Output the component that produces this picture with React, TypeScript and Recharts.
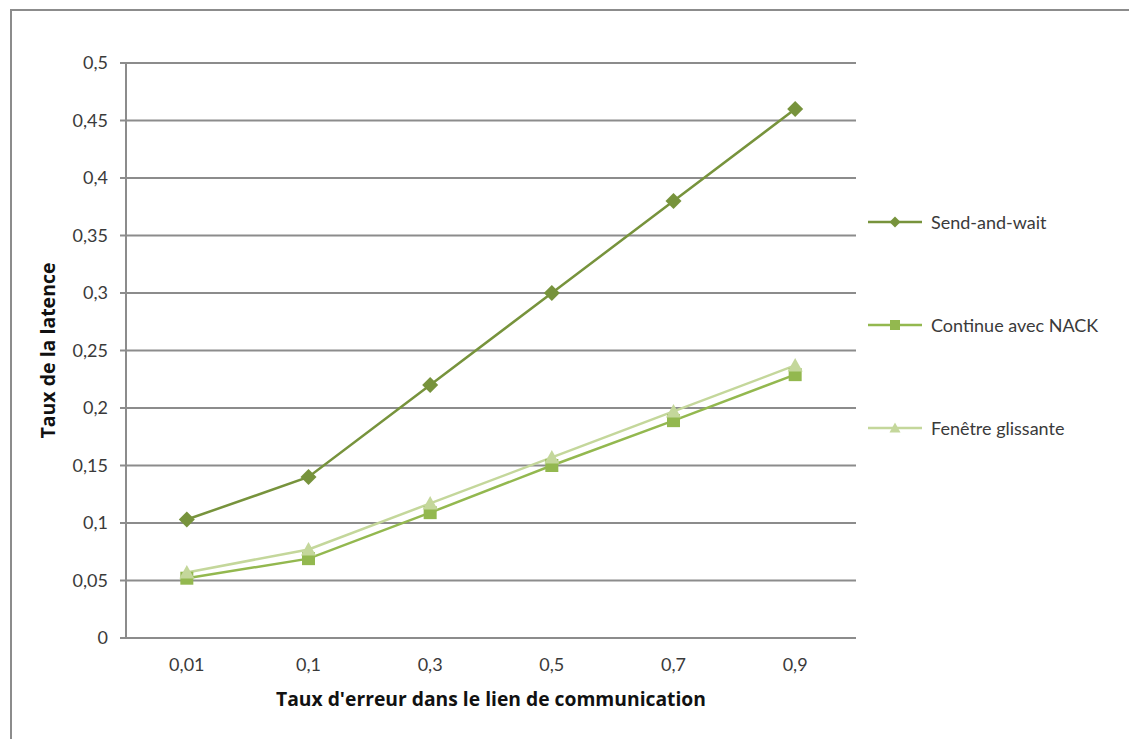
import React from "react";
import {
  LineChart,
  Line,
  XAxis,
  YAxis,
  CartesianGrid,
} from "recharts";

// Taux d'erreur testés
const categories = ["0,01", "0,1", "0,3", "0,5", "0,7", "0,9"];

// Taux de la latence par protocole
const sendAndWait = [0.103, 0.14, 0.22, 0.3, 0.38, 0.46];
const continueNack = [0.052, 0.069, 0.109, 0.15, 0.189, 0.229];
const fenetreGlissante = [0.057, 0.077, 0.117, 0.157, 0.197, 0.237];

const yTicks = [0, 0.05, 0.1, 0.15, 0.2, 0.25, 0.3, 0.35, 0.4, 0.45, 0.5];

const seriesNames = ["Send-and-wait", "Continue avec NACK", "Fenêtre glissante"];

const GRID = "#8c8c8c";
const TEXT = "#3a3a3a";
const FONT = "Lato, 'Open Sans', sans-serif";
const TITLE_FONT = "'Open Sans', Lato, sans-serif";

const series = [
  { key: "sw", name: seriesNames[0], color: "#77933c", shape: "diamond" },
  { key: "nack", name: seriesNames[1], color: "#93b84f", shape: "square" },
  { key: "fen", name: seriesNames[2], color: "#c4d79b", shape: "triangle" },
];

const data = categories.map((c, i) => ({
  i,
  cat: c,
  sw: sendAndWait[i],
  nack: continueNack[i],
  fen: fenetreGlissante[i],
}));

const catTicks = categories.map((_, i) => i);
const edgeTicks = [...categories.map((_, i) => i - 0.5), categories.length - 0.5];

const fmt = (v: number) => String(Math.round(v * 100) / 100).replace(".", ",");

function markerPath(shape: string, x: number, y: number, s: number) {
  if (shape === "diamond") {
    return `M${x},${y - s}L${x + s},${y}L${x},${y + s}L${x - s},${y}Z`;
  }
  if (shape === "square") {
    return `M${x - s},${y - s}H${x + s}V${y + s}H${x - s}Z`;
  }
  return `M${x},${y - s}L${x + s},${y + s * 0.8}L${x - s},${y + s * 0.8}Z`;
}

const markerSize: Record<string, number> = { diamond: 8, square: 6.5, triangle: 7.5 };

const makeDot = (shape: string, color: string) => (p: any) => {
  if (p.cx == null || p.cy == null) return <g key={`e-${shape}-${p.index}`} />;
  return (
    <path
      key={`${shape}-${p.index}`}
      d={markerPath(shape, p.cx, p.cy, markerSize[shape])}
      fill={color}
    />
  );
};

function YTitle(props: any) {
  const vb = props.viewBox;
  const x = vb.x + 47;
  const y = vb.y + vb.height / 2;
  return (
    <text
      x={x}
      y={y}
      transform={`rotate(-90, ${x}, ${y})`}
      textAnchor="middle"
      dominantBaseline="central"
      fontFamily={TITLE_FONT}
      fontWeight={700}
      fontSize={19.5}
      fill="#111"
    >
      Taux de la latence
    </text>
  );
}

export default function App() {
  return (
    <div
      style={{
        position: "relative",
        width: 1137,
        height: 747,
        margin: -8,
        overflow: "hidden",
        background: "#fff",
        fontFamily: FONT,
      }}
    >
      <div
        style={{
          position: "absolute",
          left: 10,
          top: 9,
          width: 1200,
          height: 800,
          borderLeft: `2px solid ${GRID}`,
          borderTop: `2px solid ${GRID}`,
        }}
      />
      <div style={{ position: "absolute", left: 0, top: 0 }}>
        <LineChart
          width={1137}
          height={747}
          data={data}
          margin={{ top: 63, right: 281, bottom: 29, left: 0 }}
        >
          <CartesianGrid
            xAxisId="cat"
            vertical={false}
            stroke={GRID}
            strokeWidth={2}
          />
          <XAxis
            xAxisId="edge"
            type="number"
            dataKey="i"
            domain={[-0.5, categories.length - 0.5]}
            ticks={edgeTicks}
            tick={false}
            height={0}
            stroke={GRID}
            strokeWidth={2}
            tickSize={6}
          />
          <XAxis
            xAxisId="cat"
            type="number"
            dataKey="i"
            domain={[-0.5, categories.length - 0.5]}
            ticks={catTicks}
            tickFormatter={(v: number) => categories[v] ?? ""}
            axisLine={false}
            tickLine={false}
            tickMargin={14}
            height={80}
            tick={{ fill: TEXT, fontSize: 18, fontFamily: FONT }}
            label={{
              value: "Taux d'erreur dans le lien de communication",
              position: "insideBottom",
              offset: 12,
              fill: "#111",
              fontSize: 19.3,
              fontWeight: 700,
              fontFamily: TITLE_FONT,
            }}
          />
          <YAxis
            domain={[0, 0.5]}
            ticks={yTicks}
            tickFormatter={fmt}
            width={126}
            stroke={GRID}
            strokeWidth={2}
            tickSize={6}
            tickMargin={12}
            tick={{ fill: TEXT, fontSize: 18, fontFamily: FONT }}
            label={<YTitle />}
          />
          {series.map((s) => (
            <Line
              key={s.key}
              xAxisId="cat"
              type="linear"
              dataKey={s.key}
              name={s.name}
              stroke={s.color}
              strokeWidth={2.5}
              dot={makeDot(s.shape, s.color)}
              activeDot={false}
              isAnimationActive={false}
            />
          ))}
        </LineChart>
      </div>

      {/* légende à droite */}
      <div
        style={{
          position: "absolute",
          left: 868,
          top: 210,
          display: "flex",
          flexDirection: "column",
          gap: 79,
        }}
      >
        {series.map((s) => (
          <div
            key={s.key}
            style={{ display: "flex", alignItems: "center", height: 24 }}
          >
            <svg width={54} height={24}>
              <line x1={0} y1={12} x2={54} y2={12} stroke={s.color} strokeWidth={2.5} />
              <path d={markerPath(s.shape, 27, 12, s.shape === "square" ? 5 : 5.5)} fill={s.color} />
            </svg>
            <span style={{ marginLeft: 9, fontSize: 18, color: TEXT }}>{s.name}</span>
          </div>
        ))}
      </div>
    </div>
  );
}
